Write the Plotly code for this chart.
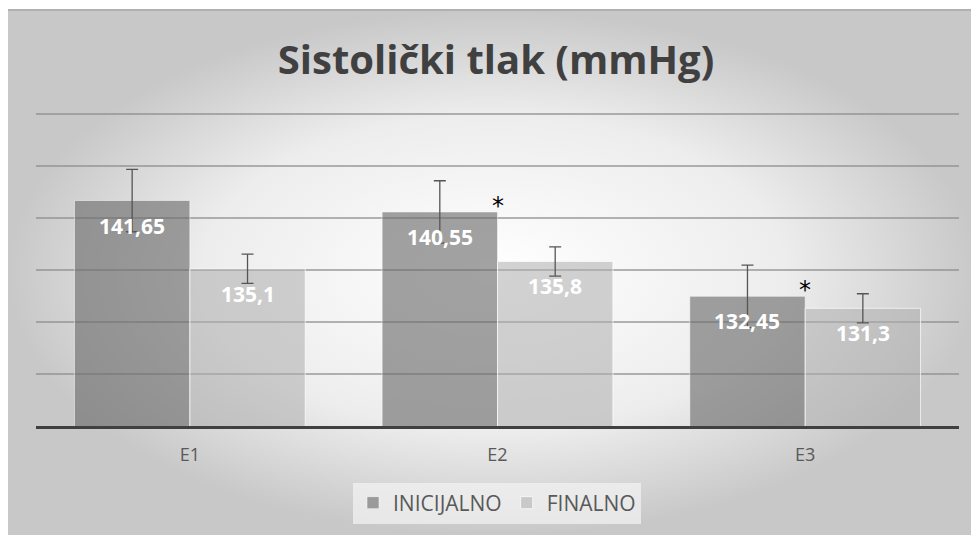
import plotly.graph_objects as go

# values
categories = ["E1", "E2", "E3"]
inicijalno = [141.65, 140.55, 132.45]
finalno = [135.1, 135.8, 131.3]
inicijalno_err = [3.0, 3.0, 3.0]
finalno_err = [1.4, 1.4, 1.4]
significance = ["", "*", "*"]

# the page body has an 8px margin, so the figure is 8px smaller and positions are page px - 8
PAD = 8
W, H = 979 - PAD, 535 - PAD
PLOT_L, PLOT_R, PLOT_T, PLOT_B = 36 - PAD, 959 - PAD, 112 - PAD, 426 - PAD
BAR_OFFSET = 0.1875  # half of one bar's share of the category (bargap 0.25, 2 bars)
TOP = 1 - 2 / H       # top edge of the chart-area background


def fmt(v):
    return f"{v:g}".replace(".", ",")


fig = go.Figure()

# gradient chart-area background on a full-page helper subplot (drawn first, so underneath)
fig.add_trace(go.Scatter(
    x=[0, 1, 1, 0, 0], y=[0, 0, TOP, TOP, 0],
    mode="lines", fill="toself",
    fillgradient=dict(type="radial", colorscale=[[0, "#ffffff"], [0.6, "#ededed"], [1, "#c8c8c8"]]),
    line=dict(width=0),
    hoverinfo="skip", showlegend=False, xaxis="x", yaxis="y",
))
# thin border along the top of the chart area
fig.add_trace(go.Scatter(
    x=[0, 1], y=[TOP, TOP], mode="lines", line=dict(color="#b0b0b0", width=2),
    hoverinfo="skip", showlegend=False, xaxis="x", yaxis="y",
))

fig.add_trace(go.Bar(
    x=categories, y=inicijalno, name="INICIJALNO",
    marker=dict(color="rgba(110,110,110,0.64)", line=dict(color="rgba(255,255,255,0.5)", width=1)),
    error_y=dict(type="data", array=inicijalno_err, color="#555555", thickness=1.3, width=6),
    xaxis="x2", yaxis="y2",
))
fig.add_trace(go.Bar(
    x=categories, y=finalno, name="FINALNO",
    marker=dict(color="rgba(175,175,175,0.56)", line=dict(color="rgba(255,255,255,0.7)", width=1)),
    error_y=dict(type="data", array=finalno_err, color="#555555", thickness=1.3, width=6),
    xaxis="x2", yaxis="y2",
))

annotations = []
for i, cat in enumerate(categories):
    for val, off in ((inicijalno[i], -BAR_OFFSET), (finalno[i], BAR_OFFSET)):
        annotations.append(dict(
            x=i + off, y=val, xref="x2", yref="y2", text=fmt(val), showarrow=False,
            yanchor="middle", yshift=-25,
            font=dict(family="Open Sans", size=21, color="white", weight="bold"),
        ))
    if significance[i]:
        annotations.append(dict(
            x=i, y=inicijalno[i], xref="x2", yref="y2", text=significance[i], showarrow=False,
            yanchor="bottom", yshift=-10,
            font=dict(family="DejaVu Sans", size=24, color="black"),
        ))

fig.update_layout(
    width=W, height=H,
    margin=dict(l=0, r=0, t=0, b=0),
    paper_bgcolor="white", plot_bgcolor="rgba(0,0,0,0)",
    title=dict(
        text="<b>Sistolički tlak (mmHg)</b>", x=(496 - PAD) / W, xanchor="center",
        y=1 - (60 - PAD) / H, yref="container", yanchor="middle",
        font=dict(family="Open Sans", size=40, color="#404040"),
    ),
    xaxis=dict(domain=[0, 1], range=[0, 1], visible=False, fixedrange=True),
    yaxis=dict(domain=[0, 1], range=[0, 1], visible=False, fixedrange=True),
    xaxis2=dict(
        domain=[PLOT_L / W, PLOT_R / W], anchor="y2",
        showline=True, linecolor="#404040", linewidth=3,
        ticks="", showgrid=False, ticklabelstandoff=10,
        tickfont=dict(family="Open Sans", size=18, color="#595959"),
    ),
    yaxis2=dict(
        domain=[1 - PLOT_B / H, 1 - PLOT_T / H], anchor="x2",
        range=[120, 150.15], tick0=120, dtick=5, showticklabels=False, ticks="",
        showgrid=True, gridcolor="rgba(140,140,140,0.65)", gridwidth=2,
        zeroline=False,
    ),
    barmode="group", bargap=0.25, bargroupgap=0,
    legend=dict(
        orientation="h", x=(497 - PAD) / W, xanchor="center", y=1 - (503 - PAD) / H, yanchor="middle",
        bgcolor="rgba(244,244,244,0.7)",
        font=dict(family="Open Sans", size=21, color="#595959"),
        itemwidth=30,
    ),
    annotations=annotations,
)

fig.write_html("out.html")
